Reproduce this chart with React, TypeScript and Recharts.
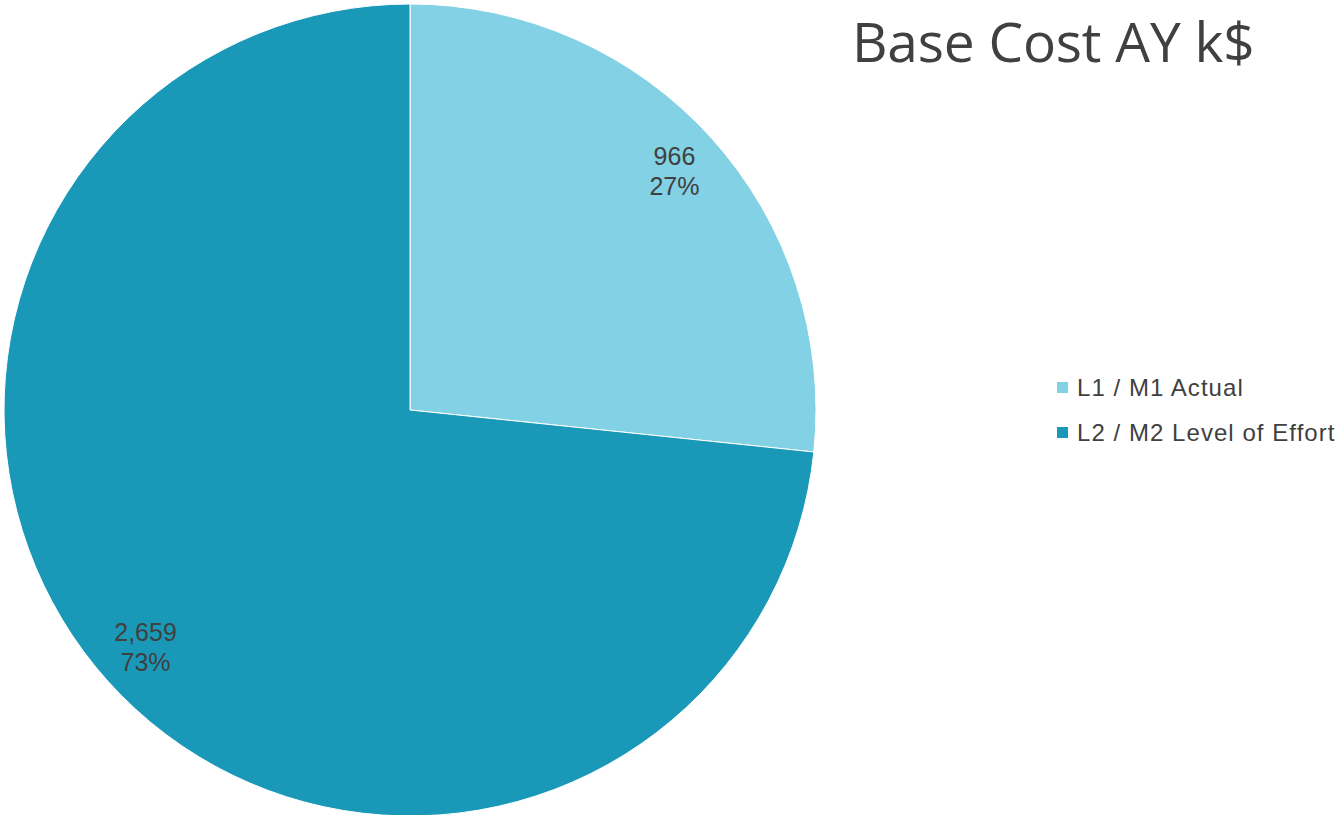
import React from 'react';
import { PieChart, Pie, Cell, Legend } from 'recharts';

const categories = ['L1 / M1 Actual', 'L2 / M2 Level of Effort'];
const values = [966, 2659];
const colors = ['#82D1E4', '#1A98B8'];

const data = categories.map((name, i) => ({ name, value: values[i] }));

const RAD = Math.PI / 180;

const renderLabel = (props: any) => {
  const { cx, cy, midAngle, outerRadius, value, percent } = props;
  const r = outerRadius * 0.877;
  const x = cx + r * Math.cos(-midAngle * RAD);
  const y = cy + r * Math.sin(-midAngle * RAD);
  return (
    <text
      x={x}
      y={y}
      textAnchor="middle"
      fill="#404040"
      fontSize={25}
      fontFamily="'Liberation Sans', Arial, sans-serif"
    >
      <tspan x={x} dy={-7}>{Number(value).toLocaleString('en-US')}</tspan>
      <tspan x={x} dy={30}>{Math.round(percent * 100)}%</tspan>
    </text>
  );
};

const renderLegend = (props: any) => {
  const { payload } = props;
  return (
    <div style={{ fontFamily: "'Liberation Sans', Arial, sans-serif" }}>
      {payload.map((entry: any, i: number) => (
        <div
          key={i}
          style={{ display: 'flex', alignItems: 'center', height: 45, color: '#404040', fontSize: 24, letterSpacing: 1.05, whiteSpace: 'nowrap' }}
        >
          <span style={{ width: 11, height: 11, background: entry.color, marginRight: 9, display: 'inline-block', flex: 'none' }} />
          <span>{entry.value}</span>
        </div>
      ))}
    </div>
  );
};

export default function App() {
  return (
    <div style={{ position: 'absolute', left: 0, top: 0, width: 1339, height: 815, background: '#fff' }}>
      <div
        style={{
          position: 'absolute',
          left: 852,
          top: 3,
          fontFamily: "'Open Sans', sans-serif",
          fontSize: 55,
          color: '#404040',
          whiteSpace: 'nowrap',
          letterSpacing: -0.2,
        }}
      >
        Base Cost AY k$
      </div>
      <PieChart width={1339} height={815} margin={{ top: 0, right: 0, bottom: 0, left: 0 }}>
        <Pie
          data={data}
          dataKey="value"
          nameKey="name"
          cx={410}
          cy={410}
          outerRadius={406}
          startAngle={90}
          endAngle={-270}
          stroke="#ffffff"
          strokeWidth={1}
          label={renderLabel}
          labelLine={false}
          isAnimationActive={false}
        >
          {data.map((d, i) => (
            <Cell key={d.name} fill={colors[i]} />
          ))}
        </Pie>
        <Legend
          layout="vertical"
          content={renderLegend}
          wrapperStyle={{ left: 1057, top: 365, width: 290 }}
        />
      </PieChart>
    </div>
  );
}
